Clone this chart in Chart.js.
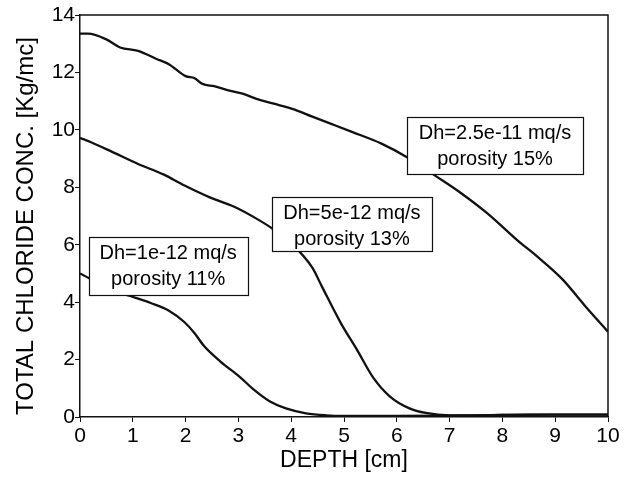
<!DOCTYPE html>
<html>
<head>
<meta charset="utf-8">
<script src="https://cdn.jsdelivr.net/npm/chart.js@4.4.1/dist/chart.umd.min.js"></script>
<style>
  html, body { margin: 0; padding: 0; background: #fff; }
  #wrap { width: 635px; height: 481px; }
</style>
</head>
<body>
<div id="wrap"><canvas id="c" width="635" height="481"></canvas></div>
<script>
// ---- data ----
// Dh = 2.5e-11 mq/s, porosity 15%
const depthA = [0, 0.15, 0.5, 0.76, 1.1, 1.45, 1.69, 2.0, 2.17, 2.32, 2.54, 2.83, 3.08, 3.39, 3.77, 4.02, 4.4, 4.77, 5.15, 5.71, 6.21, 6.74, 7.2, 7.71, 8.33, 8.64, 9.13, 9.57, 10];
const concA  = [13.35, 13.35, 13.15, 12.87, 12.75, 12.47, 12.28, 11.87, 11.8, 11.6, 11.52, 11.37, 11.26, 11.05, 10.86, 10.73, 10.46, 10.2, 9.93, 9.52, 9.03, 8.39, 7.82, 7.1, 6.08, 5.62, 4.81, 3.86, 2.97];
// Dh = 5e-12 mq/s, porosity 13%
const depthB = [0, 0.22, 0.59, 1.09, 1.59, 1.97, 2.47, 2.91, 3.35, 3.66, 4.03, 4.4, 4.58, 4.94, 5.25, 5.55, 5.86, 6.24, 6.55, 7.0, 7.5, 8, 8.5, 9, 9.5, 10];
const concB  = [9.72, 9.56, 9.25, 8.82, 8.44, 8.07, 7.64, 7.33, 6.9, 6.54, 6.0, 5.2, 4.55, 3.27, 2.33, 1.38, 0.73, 0.30, 0.14, 0.06, 0.06, 0.07, 0.08, 0.08, 0.08, 0.08];
// Dh = 1e-12 mq/s, porosity 11%
const depthC = [0, 0.63, 1.04, 1.34, 1.67, 1.98, 2.17, 2.35, 2.66, 3.03, 3.28, 3.59, 3.9, 4.28, 4.66, 5, 6, 7, 8, 9, 10];
const concC  = [5.0, 4.41, 4.16, 3.97, 3.72, 3.3, 2.92, 2.47, 1.93, 1.39, 0.97, 0.55, 0.30, 0.13, 0.06, 0.04, 0.04, 0.05, 0.07, 0.08, 0.08];

const labelA = ['Dh=2.5e-11 mq/s', 'porosity 15%'];
const labelB = ['Dh=5e-12 mq/s', 'porosity 13%'];
const labelC = ['Dh=1e-12 mq/s', 'porosity 11%'];

const xTitle = 'DEPTH [cm]';
const yTitle = 'TOTAL CHLORIDE CONC. [Kg/mc]';

const toPoints = (xs, ys) => xs.map((x, i) => ({ x: x, y: ys[i] }));

const FONT = "'Liberation Sans', Arial, Helvetica, sans-serif";

const lineStyle = {
  borderColor: '#111',
  borderWidth: 2.3,
  pointRadius: 0,
  fill: false,
  cubicInterpolationMode: 'monotone'
};

const framePlugin = {
  id: 'frame',
  afterDatasetsDraw(chart, args, opts) {
    const ctx = chart.ctx;
    const a = chart.chartArea;
    ctx.save();
    ctx.strokeStyle = '#111';
    ctx.lineWidth = 1.5;
    ctx.beginPath();
    ctx.moveTo(a.left, a.top);
    ctx.lineTo(a.right, a.top);
    ctx.lineTo(a.right, a.bottom);
    ctx.stroke();
    // annotation boxes
    const xs = chart.scales.x, ys = chart.scales.y;
    opts.boxes.forEach(b => {
      const cx = xs.getPixelForValue(b.x);
      const cy = ys.getPixelForValue(b.y);
      const l = Math.round(cx - b.w / 2) + 0.5, t = Math.round(cy - b.h / 2) + 0.5;
      ctx.fillStyle = '#fff';
      ctx.fillRect(l, t, b.w, b.h);
      ctx.strokeStyle = '#111';
      ctx.lineWidth = 1.2;
      ctx.strokeRect(l, t, b.w, b.h);
      ctx.fillStyle = '#000';
      ctx.font = '20px ' + FONT;
      ctx.textAlign = 'center';
      ctx.textBaseline = 'middle';
      ctx.fillText(b.text[0], cx, t + 16);
      ctx.fillText(b.text[1], cx, t + 42);
    });
    ctx.restore();
  }
};

new Chart(document.getElementById('c'), {
  type: 'line',
  data: {
    datasets: [
      Object.assign({ label: labelA.join(' '), data: toPoints(depthA, concA) }, lineStyle),
      Object.assign({ label: labelB.join(' '), data: toPoints(depthB, concB) }, lineStyle),
      Object.assign({ label: labelC.join(' '), data: toPoints(depthC, concC) }, lineStyle)
    ]
  },
  options: {
    responsive: false,
    animation: false,
    layout: { padding: { left: 0, right: 27, top: 15, bottom: 0 } },
    plugins: {
      legend: { display: false },
      tooltip: { enabled: false },
      frame: {
        boxes: [
          { x: 7.86, y: 9.47, w: 176, h: 57, text: labelA },
          { x: 5.15, y: 6.72, w: 160, h: 54, text: labelB },
          { x: 1.67, y: 5.26, w: 159, h: 58, text: labelC }
        ]
      }
    },
    scales: {
      x: {
        type: 'linear',
        min: 0, max: 10,
        afterFit(s) { s.height = 64; },
        ticks: { stepSize: 1, color: '#000', padding: 2, font: { family: FONT, size: 21 } },
        grid: { drawOnChartArea: false, drawTicks: true, tickLength: 5, color: '#111' },
        border: { display: true, color: '#111', width: 1.5 },
        title: { display: true, text: xTitle, color: '#000', font: { family: FONT, size: 23 }, padding: { top: 0, bottom: 7 } }
      },
      y: {
        type: 'linear',
        min: 0, max: 14,
        afterFit(s) { s.width = 80; },
        ticks: { stepSize: 2, color: '#000', padding: 0, font: { family: FONT, size: 21 } },
        grid: { drawOnChartArea: false, drawTicks: true, tickLength: 5, color: '#111' },
        border: { display: true, color: '#111', width: 1.5 },
        title: { display: true, text: yTitle + '   ', color: '#000', font: { family: FONT, size: 24 }, padding: { top: 12, bottom: 0 } }
      }
    }
  },
  plugins: [framePlugin]
});
</script>
</body>
</html>
